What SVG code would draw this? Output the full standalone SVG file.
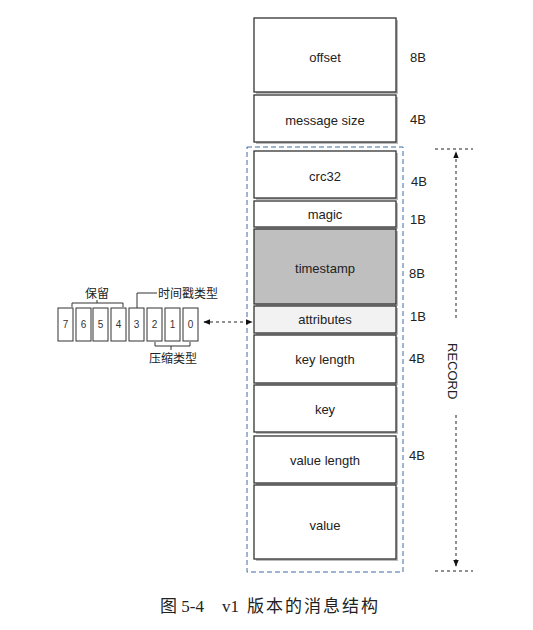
<svg xmlns="http://www.w3.org/2000/svg" width="533" height="630" viewBox="0 0 533 630">
<style>
.box{fill:#fff;stroke:#333;stroke-width:1.3}
.sh{fill:#bbb}
.t{font-family:"Liberation Sans",Arial,sans-serif;font-size:13px;fill:#222;text-anchor:middle}
.sz{font-family:"Liberation Sans",Arial,sans-serif;font-size:13px;fill:#222}
.bit{fill:#fff;stroke:#333;stroke-width:1}
.bt{font-family:"Liberation Sans",Arial,sans-serif;font-size:10px;fill:#333;text-anchor:middle}
.cn{font-family:"Noto Sans CJK SC",sans-serif;font-size:12px;fill:#222}
.cap{font-family:"Liberation Serif","Noto Sans CJK SC",serif;font-size:17px;fill:#222}
.dash{fill:none;stroke:#222;stroke-width:1;stroke-dasharray:3,3}
.ln{fill:none;stroke:#333;stroke-width:1}
</style>
<defs>
<marker id="ah" viewBox="0 0 10 10" refX="9" refY="5" markerWidth="7" markerHeight="7" orient="auto-start-reverse">
<path d="M0,1 L10,5 L0,9 z" fill="#111"/>
</marker>
</defs>
<rect width="533" height="630" fill="#fff"/>

<g id="offset"><rect class="sh" x="256" y="20" width="142" height="74"/><rect class="box" x="254" y="18" width="142" height="74"/><text class="t" x="325" y="62">offset</text><text class="sz" x="410" y="62">8B</text></g>
<g id="message-size"><rect class="sh" x="256" y="97" width="142" height="47"/><rect class="box" x="254" y="95" width="142" height="47"/><text class="t" x="325" y="125">message size</text><text class="sz" x="410" y="124">4B</text></g>

<g id="record-box"><rect x="247" y="147" width="156" height="425" fill="none" stroke="#3f6aa8" stroke-width="1" stroke-dasharray="5,3"/></g>

<g id="crc32"><rect class="sh" x="256" y="153" width="142" height="47"/><rect class="box" x="254" y="151" width="142" height="47"/><text class="t" x="325" y="181">crc32</text><text class="sz" x="411" y="186">4B</text></g>
<g id="magic"><rect class="sh" x="256" y="203" width="142" height="26"/><rect class="box" x="254" y="201" width="142" height="26"/><text class="t" x="325" y="219">magic</text><text class="sz" x="410" y="224">1B</text></g>
<g id="timestamp"><rect class="sh" x="256" y="231" width="142" height="75"/><rect class="box" x="254" y="229" width="142" height="75" style="fill:#bfbfbf"/><text class="t" x="325" y="273">timestamp</text><text class="sz" x="409" y="278">8B</text></g>
<g id="attributes"><rect class="sh" x="256" y="308" width="142" height="27"/><rect class="box" x="254" y="306" width="142" height="27" style="fill:#f2f2f2"/><text class="t" x="325" y="324">attributes</text><text class="sz" x="410" y="321">1B</text></g>
<g id="key-length"><rect class="sh" x="256" y="337" width="142" height="48"/><rect class="box" x="254" y="335" width="142" height="48"/><text class="t" x="325" y="364">key length</text><text class="sz" x="409" y="363">4B</text></g>
<g id="key"><rect class="sh" x="256" y="387" width="142" height="47"/><rect class="box" x="254" y="385" width="142" height="47"/><text class="t" x="325" y="414">key</text></g>
<g id="value-length"><rect class="sh" x="256" y="438" width="142" height="47"/><rect class="box" x="254" y="436" width="142" height="47"/><text class="t" x="325" y="465">value length</text><text class="sz" x="409" y="460">4B</text></g>
<g id="value"><rect class="sh" x="256" y="487" width="142" height="74"/><rect class="box" x="254" y="485" width="142" height="74"/><text class="t" x="325" y="530">value</text></g>

<g id="record-label"><text class="sz" transform="translate(448,343) rotate(90)">RECORD</text></g>

<g id="bits">
<rect class="bit" x="58" y="308" width="15" height="33"/><text class="bt" x="65.5" y="328">7</text>
<rect class="bit" x="76" y="308" width="15" height="33"/><text class="bt" x="83.5" y="328">6</text>
<rect class="bit" x="93" y="308" width="15" height="33"/><text class="bt" x="100.5" y="328">5</text>
<rect class="bit" x="111" y="308" width="15" height="33"/><text class="bt" x="118.5" y="328">4</text>
<rect class="bit" x="129" y="308" width="15" height="33"/><text class="bt" x="136.5" y="328">3</text>
<rect class="bit" x="147" y="308" width="15" height="33"/><text class="bt" x="154.5" y="328">2</text>
<rect class="bit" x="165" y="308" width="15" height="33"/><text class="bt" x="172.5" y="328">1</text>
<rect class="bit" x="183" y="308" width="15" height="33"/><text class="bt" x="190.5" y="328">0</text>
<path class="ln" d="M72,307 V303 H123 V307 M97,303 V300"/>
<text class="cn" x="97" y="298" text-anchor="middle">保留</text>
<path class="ln" d="M137,308 V293 H157"/>
<text class="cn" x="158" y="298">时间戳类型</text>
<path class="ln" d="M155,342 V346 H190 V342 M171,346 V350"/>
<text class="cn" x="173" y="363" text-anchor="middle">压缩类型</text>
</g>

<g id="connectors">
<line class="dash" x1="204" y1="322" x2="252" y2="322" marker-start="url(#ah)" marker-end="url(#ah)"/>
<line class="dash" x1="435" y1="149" x2="473" y2="149"/>
<line class="dash" x1="435" y1="571" x2="473" y2="571"/>
<line class="dash" x1="456" y1="318" x2="456" y2="152" marker-end="url(#ah)"/>
<line class="dash" x1="456" y1="415" x2="456" y2="566" marker-end="url(#ah)"/>
</g>

<g id="caption">
<text class="cap" x="160" y="612">图 5-4</text>
<text class="cap" x="222" y="612">v1</text>
<text class="cap" x="247" y="612" letter-spacing="2">版本的消息结构</text>
</g>
</svg>
